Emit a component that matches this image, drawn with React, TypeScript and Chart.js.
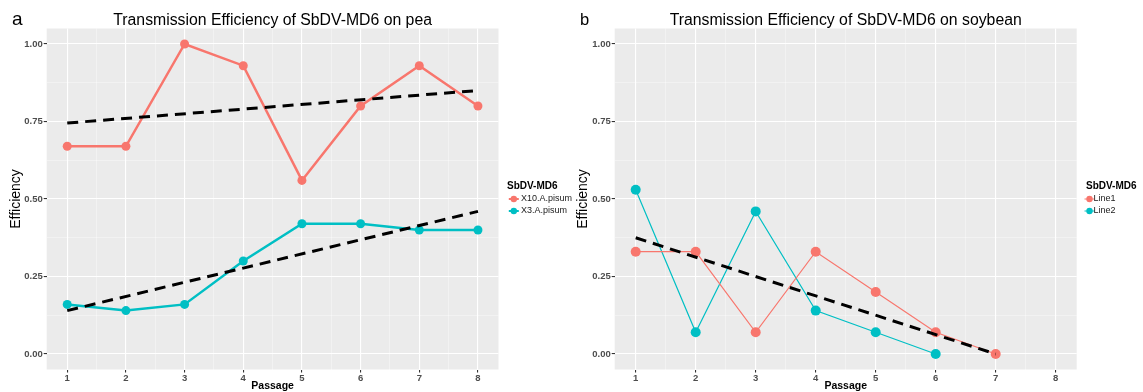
import React, { useEffect, useRef } from 'react';
import { Chart, registerables } from 'chart.js';

Chart.register(...registerables);

// ---------- data ----------
const passages = [1, 2, 3, 4, 5, 6, 7, 8];
const peaX10 = [0.67, 0.67, 1.0, 0.93, 0.56, 0.8, 0.93, 0.8];
const peaX3 = [0.16, 0.14, 0.16, 0.3, 0.42, 0.42, 0.4, 0.4];
const peaTrendPassages = [1, 8];
const peaTrendX10 = [0.745, 0.85];
const peaTrendX3 = [0.14, 0.46];

const soyLine1 = [0.33, 0.33, 0.07, 0.33, 0.2, 0.07, 0.0];
const soyLine2 = [0.53, 0.07, 0.46, 0.14, 0.07, 0.0];
const soyTrendPassages = [1, 7];
const soyTrend = [0.375, 0.0];

const yMajorTicks = [0, 0.25, 0.5, 0.75, 1.0];
const yMinorTicks = [0.125, 0.375, 0.625, 0.875];
const xMinorTicks = [1.5, 2.5, 3.5, 4.5, 5.5, 6.5, 7.5];

const peaTitle = 'Transmission Efficiency of SbDV-MD6 on pea';
const soyTitle = 'Transmission Efficiency of SbDV-MD6 on soybean';
const legendTitle = 'SbDV-MD6';
const peaLegendLabels = ['X10.A.pisum', 'X3.A.pisum'];
const soyLegendLabels = ['Line1', 'Line2'];
const yAxisTitle = 'Efficiency';
const xAxisTitle = 'Passage';

const RED = '#F8766D';
const TEAL = '#00BFC4';
const FONT = '"Liberation Sans", Arial, Helvetica, sans-serif';

const toPoints = (xs: number[], ys: number[]) => ys.map((y, i) => ({ x: xs[i], y }));

const bgPlugin = {
  id: 'ggBg',
  beforeDraw(chart: any) {
    const { ctx, chartArea } = chart;
    ctx.save();
    ctx.fillStyle = '#EBEBEB';
    ctx.fillRect(chartArea.left, chartArea.top, chartArea.right - chartArea.left, chartArea.bottom - chartArea.top);
    ctx.restore();
  },
};

const textPlugin = {
  id: 'ggText',
  afterDraw(chart: any, _args: any, opts: any) {
    const { ctx, chartArea } = chart;
    const cx = (chartArea.left + chartArea.right) / 2;
    const cy = (chartArea.top + chartArea.bottom) / 2;
    ctx.save();
    ctx.fillStyle = '#000';
    ctx.textAlign = 'left';
    ctx.textBaseline = 'alphabetic';
    ctx.font = `${opts.letterSize}px ${FONT}`;
    ctx.fillText(opts.letter, opts.letterX, 25);

    ctx.textAlign = 'center';
    ctx.font = `15.8px ${FONT}`;
    ctx.fillText(opts.title, cx, 25);

    // y title
    ctx.save();
    ctx.translate(opts.yTitleX, cy);
    ctx.rotate(-Math.PI / 2);
    ctx.font = `14px ${FONT}`;
    ctx.textBaseline = 'middle';
    ctx.fillText(yAxisTitle, 0, 0);
    ctx.restore();

    // x title
    ctx.font = `bold 10.5px ${FONT}`;
    ctx.textBaseline = 'middle';
    ctx.fillText(xAxisTitle, cx, 386);

    // legend
    ctx.textAlign = 'left';
    ctx.font = `bold 10px ${FONT}`;
    ctx.fillText(legendTitle, opts.legendX, 186);
    opts.items.forEach((it: any, i: number) => {
      const y = 199 + i * 12;
      const kx = opts.legendX + opts.keyOffset;
      ctx.strokeStyle = it.color;
      ctx.lineWidth = it.lineWidth;
      ctx.beginPath();
      ctx.moveTo(kx - 5, y);
      ctx.lineTo(kx + 5, y);
      ctx.stroke();
      ctx.fillStyle = it.color;
      ctx.beginPath();
      ctx.arc(kx, y, 3.2, 0, Math.PI * 2);
      ctx.fill();
      ctx.fillStyle = '#1a1a1a';
      ctx.font = `9px ${FONT}`;
      ctx.fillText(it.label, opts.legendX + opts.textOffset, y);
    });
    ctx.restore();
  },
};

function makeConfig(p: any) {
  const isMajorY = (v: number) => yMajorTicks.includes(v);
  const isMajorX = (v: number) => Number.isInteger(v);
  return {
    type: 'line',
    data: { datasets: p.datasets },
    options: {
      animation: false,
      responsive: false,
      devicePixelRatio: 1,
      layout: { padding: { left: 0, top: 28.5, right: p.padRight, bottom: 0 } },
      plugins: {
        legend: { display: false },
        tooltip: { enabled: false },
        title: { display: false },
        ggText: p.text,
      },
      scales: {
        x: {
          type: 'linear',
          min: 0.65,
          max: p.xMax,
          afterBuildTicks: (scale: any) => {
            scale.ticks = [...passages, ...xMinorTicks].sort((a, b) => a - b).map((v) => ({ value: v }));
          },
          afterFit: (scale: any) => {
            scale.height = 22.5;
          },
          ticks: {
            autoSkip: false,
            maxRotation: 0,
            padding: 0,
            color: '#4D4D4D',
            font: { family: FONT, size: 9.5, weight: 'bold' },
            callback: (v: number) => (isMajorX(v) ? String(v) : ''),
          },
          grid: {
            color: (c: any) => (c.tick && isMajorX(c.tick.value) ? '#FFFFFF' : 'rgba(255,255,255,0.75)'),
            lineWidth: (c: any) => (c.tick && isMajorX(c.tick.value) ? 1.1 : 0.5),
            tickColor: (c: any) => (c.tick && isMajorX(c.tick.value) ? '#333333' : 'rgba(0,0,0,0)'),
            tickLength: 3,
          },
          border: { display: false },
        },
        y: {
          type: 'linear',
          min: -0.05,
          max: 1.05,
          afterBuildTicks: (scale: any) => {
            scale.ticks = [...yMajorTicks, ...yMinorTicks].sort((a, b) => a - b).map((v) => ({ value: v }));
          },
          afterFit: (scale: any) => {
            scale.width = p.yWidth;
          },
          ticks: {
            autoSkip: false,
            padding: 1,
            color: '#4D4D4D',
            font: { family: FONT, size: 9.5, weight: 'bold' },
            callback: (v: number) => (isMajorY(v) ? v.toFixed(2) : ''),
          },
          grid: {
            color: (c: any) => (c.tick && isMajorY(c.tick.value) ? '#FFFFFF' : 'rgba(255,255,255,0.75)'),
            lineWidth: (c: any) => (c.tick && isMajorY(c.tick.value) ? 1.1 : 0.5),
            tickColor: (c: any) => (c.tick && isMajorY(c.tick.value) ? '#333333' : 'rgba(0,0,0,0)'),
            tickLength: 3,
          },
          border: { display: false },
        },
      },
    },
    plugins: [bgPlugin, textPlugin],
  };
}

const trendDs = (xs: number[], ys: number[]) => ({
  data: toPoints(xs, ys),
  borderColor: '#000000',
  borderWidth: 3,
  borderDash: [11, 7],
  pointRadius: 0,
  fill: false,
  tension: 0,
});

const seriesDs = (xs: number[], ys: number[], color: string, lw: number, r: number) => ({
  data: toPoints(xs, ys),
  borderColor: color,
  backgroundColor: color,
  borderWidth: lw,
  pointRadius: r,
  pointBorderWidth: 0,
  pointBackgroundColor: color,
  fill: false,
  tension: 0,
});

function Panel({ config, width, left }: { config: any; width: number; left: number }) {
  const ref = useRef<HTMLCanvasElement>(null);
  useEffect(() => {
    if (!ref.current) return;
    const chart = new Chart(ref.current, config);
    return () => chart.destroy();
  }, []);
  return (
    <canvas
      ref={ref}
      width={width}
      height={392}
      style={{ position: 'absolute', left, top: 0, width, height: 392 }}
    />
  );
}

const SPLIT = 576;

export default function App() {
  const peaConfig = makeConfig({
    padRight: SPLIT - 498.5,
    yWidth: 46.7,
    xMax: 8.35,
    datasets: [
      trendDs(peaTrendPassages, peaTrendX10),
      trendDs(peaTrendPassages, peaTrendX3),
      seriesDs(passages, peaX10, RED, 2.5, 4.5),
      seriesDs(passages, peaX3, TEAL, 2.5, 4.5),
    ],
    text: {
      letter: 'a',
      letterSize: 19,
      letterX: 12,
      title: peaTitle,
      yTitleX: 16,
      legendX: 507,
      keyOffset: 6.8,
      textOffset: 14,
      items: [
        { label: peaLegendLabels[0], color: RED, lineWidth: 2 },
        { label: peaLegendLabels[1], color: TEAL, lineWidth: 2 },
      ],
    },
  });
  const soyConfig = makeConfig({
    padRight: 1143 - 1076.7,
    yWidth: 614.7 - SPLIT,
    xMax: 8.35,
    datasets: [
      trendDs(soyTrendPassages, soyTrend),
      seriesDs(passages.slice(0, soyLine1.length), soyLine1, RED, 1.2, 5),
      seriesDs(passages.slice(0, soyLine2.length), soyLine2, TEAL, 1.2, 5),
    ],
    text: {
      letter: 'b',
      letterSize: 16.5,
      letterX: 580 - SPLIT,
      title: soyTitle,
      yTitleX: 583 - SPLIT,
      legendX: 1086 - SPLIT,
      keyOffset: 3.5,
      textOffset: 7.5,
      items: [
        { label: soyLegendLabels[0], color: RED, lineWidth: 1 },
        { label: soyLegendLabels[1], color: TEAL, lineWidth: 1 },
      ],
    },
  });
  return (
    <div style={{ position: 'absolute', left: 0, top: 0, width: 1143, height: 392, background: '#fff' }}>
      <Panel config={peaConfig} width={SPLIT} left={0} />
      <Panel config={soyConfig} width={1143 - SPLIT} left={SPLIT} />
    </div>
  );
}
